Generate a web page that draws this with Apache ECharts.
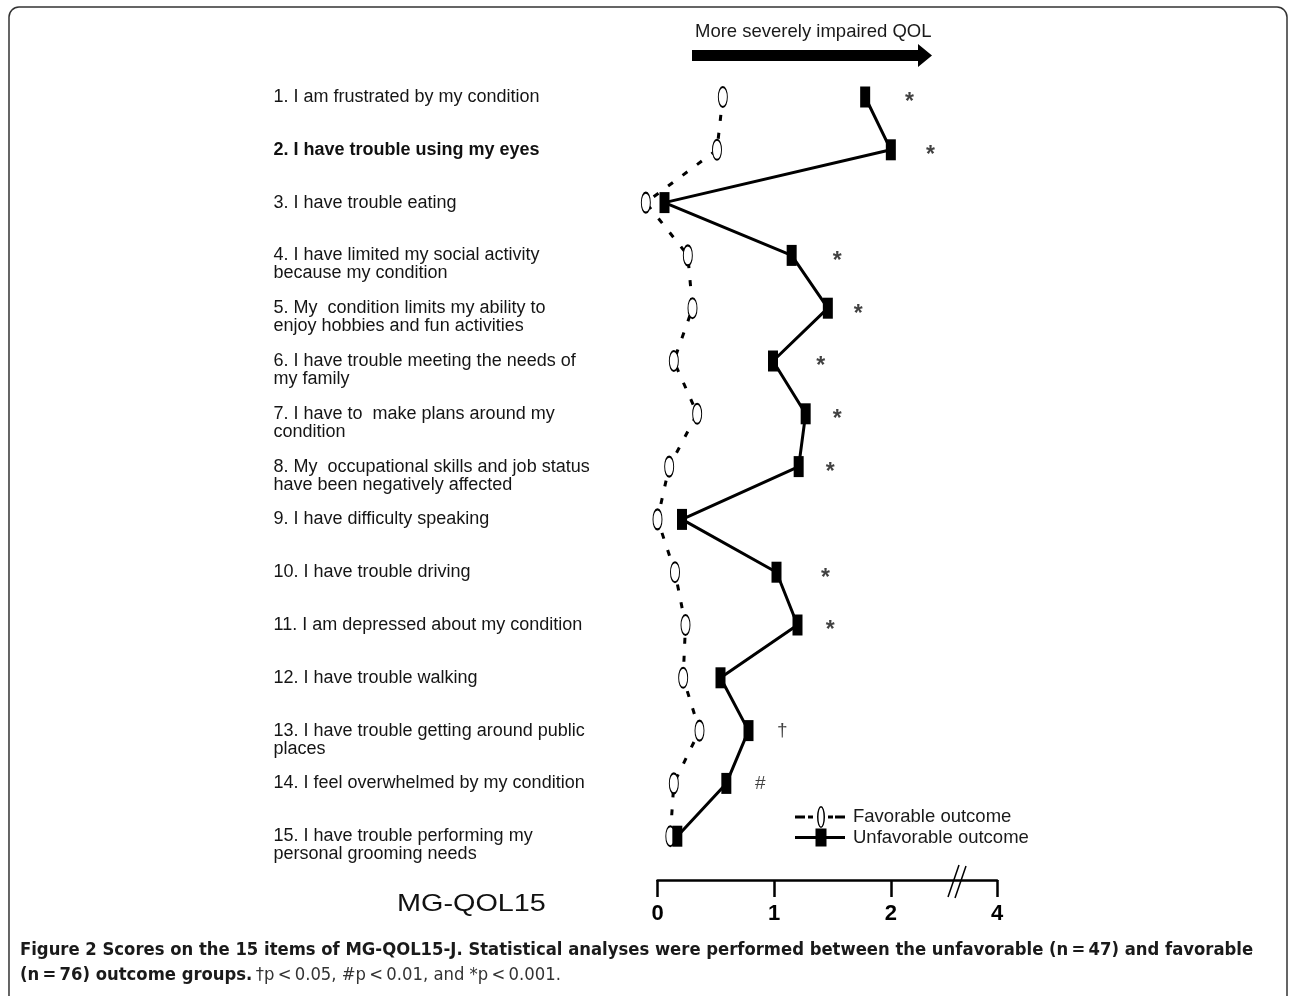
<!DOCTYPE html>
<html>
<head>
<meta charset="utf-8">
<script src="https://cdn.jsdelivr.net/npm/echarts@6/dist/echarts.min.js"></script>
<style>
html,body{margin:0;padding:0;background:#fff;}
#chart{width:1290px;height:996px;}
</style>
</head>
<body>
<div id="chart"></div>
<script>
const items = [
  "1. I am frustrated by my condition",
  "2. I have trouble using my eyes",
  "3. I have trouble eating",
  "4. I have limited my social activity\nbecause my condition",
  "5. My  condition limits my ability to\nenjoy hobbies and fun activities",
  "6. I have trouble meeting the needs of\nmy family",
  "7. I have to  make plans around my\ncondition",
  "8. My  occupational skills and job status\nhave been negatively affected",
  "9. I have difficulty speaking",
  "10. I have trouble driving",
  "11. I am depressed about my condition",
  "12. I have trouble walking",
  "13. I have trouble getting around public\nplaces",
  "14. I feel overwhelmed by my condition",
  "15. I have trouble performing my\npersonal grooming needs"
];
const favorable   = [0.56, 0.51, -0.10, 0.26, 0.30, 0.14, 0.34, 0.10, 0.00, 0.15, 0.24, 0.22, 0.36, 0.14, 0.11];
const unfavorable = [1.78, 2.00, 0.06, 1.15, 1.46, 0.99, 1.27, 1.21, 0.21, 1.02, 1.20, 0.54, 0.78, 0.59, 0.17];
const sigMarks    = ["*", "*", "", "*", "*", "*", "*", "*", "", "*", "*", "", "\u2020", "#", ""];
const sigX        = [2.16, 2.34, null, 1.54, 1.72, 1.40, 1.54, 1.48, null, 1.44, 1.48, null, 1.07, 0.88, null];
const tickValues  = [0, 1, 2, 2.91];
const tickLabels  = ["0", "1", "2", "4"];
const seriesNames = ["Favorable outcome", "Unfavorable outcome"];

const chart = echarts.init(document.getElementById('chart'));
const FONT = '"Liberation Sans", Arial, sans-serif';
const CAPFONT = '"Liberation Sans Narrow", "DejaVu Sans Condensed", sans-serif';

const ellipse = 'path://M5,0 C8,0 10,4.5 10,10 C10,15.5 8,20 5,20 C2,20 0,15.5 0,10 C0,4.5 2,0 5,0 Z';
const favIcon = 'path://M0,9.5 h10 v3 h-10 Z M13,9.5 h5 v3 h-5 Z M26,0 A4,11 0 1,1 26,22 A4,11 0 1,1 26,0 Z M26,1.5 A2.5,9.5 0 1,0 26,20.5 A2.5,9.5 0 1,0 26,1.5 Z M33,9.5 h5 v3 h-5 Z M40,9.5 h10 v3 h-10 Z';
const unfIcon = 'path://M0,9.5 h50 v3 h-50 Z M20.5,2 h11 v18 h-11 Z';

const sigData = [];
sigMarks.forEach((m, i) => {
  if (m) sigData.push({ value: [sigX[i], i], name: m,
    label: { offset: m === '*' ? [0, 6] : [0, 0], fontSize: m === '*' ? 23 : 19, fontWeight: m === '*' ? 'bold' : 'normal' } });
});

const option = {
  animation: false,
  backgroundColor: '#fff',
  grid: { left: 657.5, right: 293, top: 70.6, bottom: 133.4 },
  xAxis: {
    type: 'value', min: 0, max: 2.91,
    splitLine: { show: false },
    offset: 17.5,
    axisLine: { show: true, lineStyle: { color: '#000', width: 2.5 } },
    axisTick: { show: true, length: 17, customValues: tickValues, lineStyle: { color: '#000', width: 2.5 } },
    axisLabel: {
      customValues: tickValues, margin: 23,
      formatter: v => { const k = tickValues.findIndex(t => Math.abs(t - v) < 1e-6); return k >= 0 ? tickLabels[k] : ''; },
      color: '#000', fontSize: 22, fontWeight: 'bold', fontFamily: FONT
    }
  },
  yAxis: {
    type: 'category', inverse: true, data: items,
    axisLine: { show: false }, axisTick: { show: false }, splitLine: { show: false },
    axisLabel: {
      align: 'left', margin: 384, color: '#151515', fontSize: 18, lineHeight: 18, fontFamily: FONT,
      formatter: (v, i) => {
        const t = i === 1 ? '{b|' + v + '}' : v;
        return v.indexOf('\n') >= 0 ? ' \n' + t : t;
      },
      rich: { b: { fontWeight: 'bold', fontSize: 18, lineHeight: 18, color: '#111', fontFamily: FONT } }
    }
  },
  legend: {
    orient: 'vertical', left: 790, top: 801, itemWidth: 50, itemHeight: 22, itemGap: 0,
    data: [
      { name: seriesNames[0], icon: favIcon, itemStyle: { color: '#000', borderWidth: 0 } },
      { name: seriesNames[1], icon: unfIcon, itemStyle: { color: '#000', borderWidth: 0 } }
    ],
    textStyle: { fontSize: 18.5, color: '#1a1a1a', fontFamily: FONT, padding: [0, 0, 0, 3] }
  },
  series: [
    {
      name: seriesNames[0], type: 'line', clip: false, z: 2,
      data: favorable.map((v, i) => [v, i]),
      symbol: ellipse, symbolSize: [9, 20],
      itemStyle: { color: '#fff', borderColor: '#000', borderWidth: 1.4 },
      lineStyle: { color: '#000', width: 3, type: [6, 12] }
    },
    {
      name: seriesNames[1], type: 'line', clip: false, z: 3,
      data: unfavorable.map((v, i) => [v, i]),
      symbol: 'rect', symbolSize: [10, 21],
      itemStyle: { color: '#000' },
      lineStyle: { color: '#000', width: 3 }
    },
    {
      name: 'sig', type: 'scatter', clip: false, z: 4,
      data: sigData, symbolSize: 1, itemStyle: { color: 'rgba(0,0,0,0)' },
      label: { show: true, position: 'inside', formatter: p => p.name, color: '#111', fontSize: 19, fontFamily: FONT },
      tooltip: { show: false }
    }
  ],
  graphic: [
    { type: 'rect', shape: { x: 9, y: 7, width: 1278, height: 1000, r: 10 }, style: { fill: 'none', stroke: '#333', lineWidth: 1.5 }, z: -1 },
    { type: 'text', left: 695, top: 22, style: { text: 'More severely impaired QOL', fontSize: 18.5, fontFamily: FONT, fill: '#1a1a1a' } },
    { type: 'polygon', shape: { points: [[692, 50], [918, 50], [918, 44], [932, 55.5], [918, 67], [918, 61], [692, 61]] }, style: { fill: '#000' } },
    { type: 'text', left: 397, top: 892, scaleX: 1.2, style: { text: 'MG-QOL15', fontSize: 24, fontFamily: FONT, fill: '#111' } },
    { type: 'line', shape: { x1: 948, y1: 897, x2: 959, y2: 865 }, style: { stroke: '#000', lineWidth: 1.5 } },
    { type: 'line', shape: { x1: 955, y1: 898, x2: 966, y2: 866 }, style: { stroke: '#000', lineWidth: 1.5 } },
    { type: 'text', left: 20, top: 941, style: {
        text: '{b|Figure 2 Scores on the 15 items of MG-QOL15-J. Statistical analyses were performed between the unfavorable (n\u2009=\u200947) and favorable}',
        rich: { b: { fontSize: 18.3, fontWeight: 'bold', fontFamily: CAPFONT, fill: '#1a1a1a' } } } },
    { type: 'text', left: 20, top: 966, style: {
        text: '{b|(n\u2009=\u200976) outcome groups.} {r|\u2020p\u2009<\u20090.05, #p\u2009<\u20090.01, and *p\u2009<\u20090.001.}',
        rich: { b: { fontSize: 18.3, fontWeight: 'bold', fontFamily: CAPFONT, fill: '#1a1a1a' },
                r: { fontSize: 18.3, fontFamily: CAPFONT, fill: '#333' } } } }
  ]
};
chart.setOption(option);
</script>
</body>
</html>
